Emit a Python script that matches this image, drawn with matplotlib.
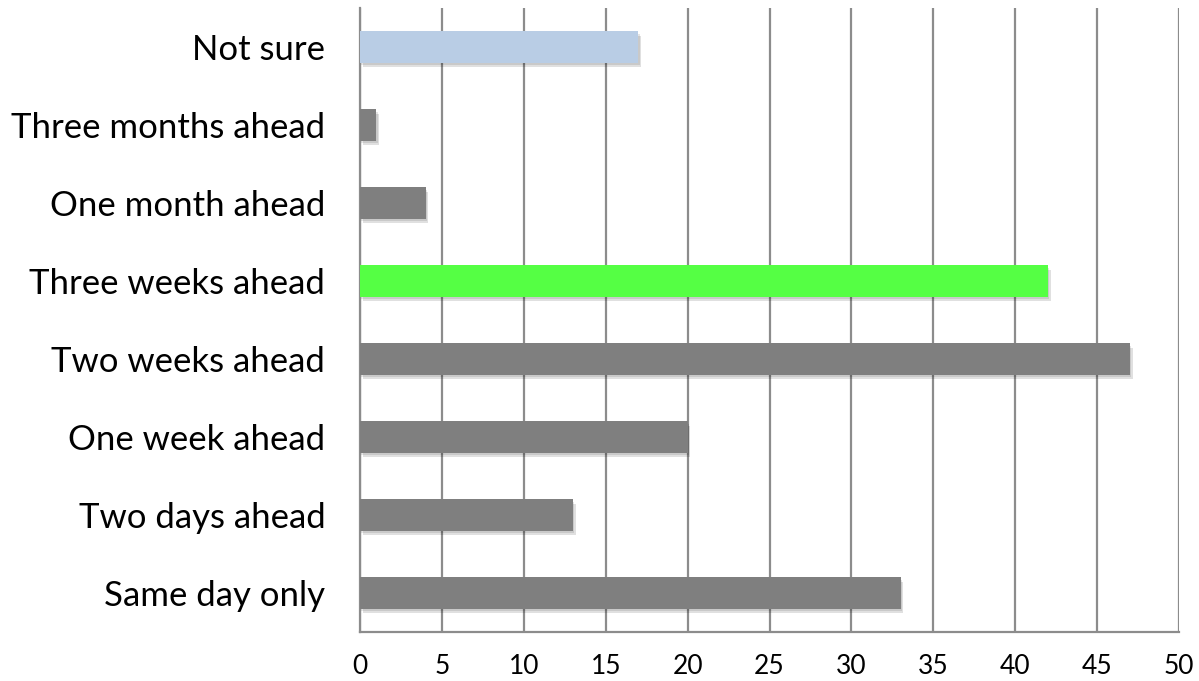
import matplotlib
matplotlib.use("Agg")
import matplotlib.pyplot as plt
import matplotlib.patheffects as pe

categories = ["Same day only", "Two days ahead", "One week ahead", "Two weeks ahead",
              "Three weeks ahead", "One month ahead", "Three months ahead", "Not sure"]
values = [33, 13, 20, 47, 42, 4, 1, 17]
colors = ["#7f7f7f", "#7f7f7f", "#7f7f7f", "#7f7f7f",
          "#55ff44", "#7f7f7f", "#7f7f7f", "#b9cde5"]
xticks = [0, 5, 10, 15, 20, 25, 30, 35, 40, 45, 50]

plt.rcParams["font.family"] = ["Lato", "DejaVu Sans"]

fig = plt.figure(figsize=(11.99, 6.81), dpi=100)
ax = fig.add_axes([360 / 1199, 1 - 632 / 681, 819 / 1199, 624 / 681])

ypos = list(range(len(categories)))
bars = ax.barh(ypos, values, height=0.4, color=colors, zorder=3)
shadow = [pe.SimplePatchShadow(offset=(2, -3), shadow_rgbFace="#000000", alpha=0.12),
          pe.SimplePatchShadow(offset=(1, -2), shadow_rgbFace="#000000", alpha=0.10),
          pe.Normal()]
for b in bars:
    b.set_path_effects(shadow)

ax.set_xlim(0, 50)
ax.set_ylim(-0.5, len(categories) - 0.5)
ax.set_xticks(xticks)
ax.set_yticks(ypos)
ax.set_yticklabels(categories, fontsize=25)
ax.tick_params(axis="x", labelsize=19, length=0, pad=16)
ax.tick_params(axis="y", length=0, pad=25)
ax.xaxis.grid(True, color="#8c8c8c", linewidth=1.6, zorder=0)
ax.set_axisbelow(True)

for s in ["top", "right"]:
    ax.spines[s].set_visible(False)
for s in ["left", "bottom"]:
    ax.spines[s].set_color("#8c8c8c")
    ax.spines[s].set_linewidth(1.6)

fig.savefig("out.png", dpi=100)
